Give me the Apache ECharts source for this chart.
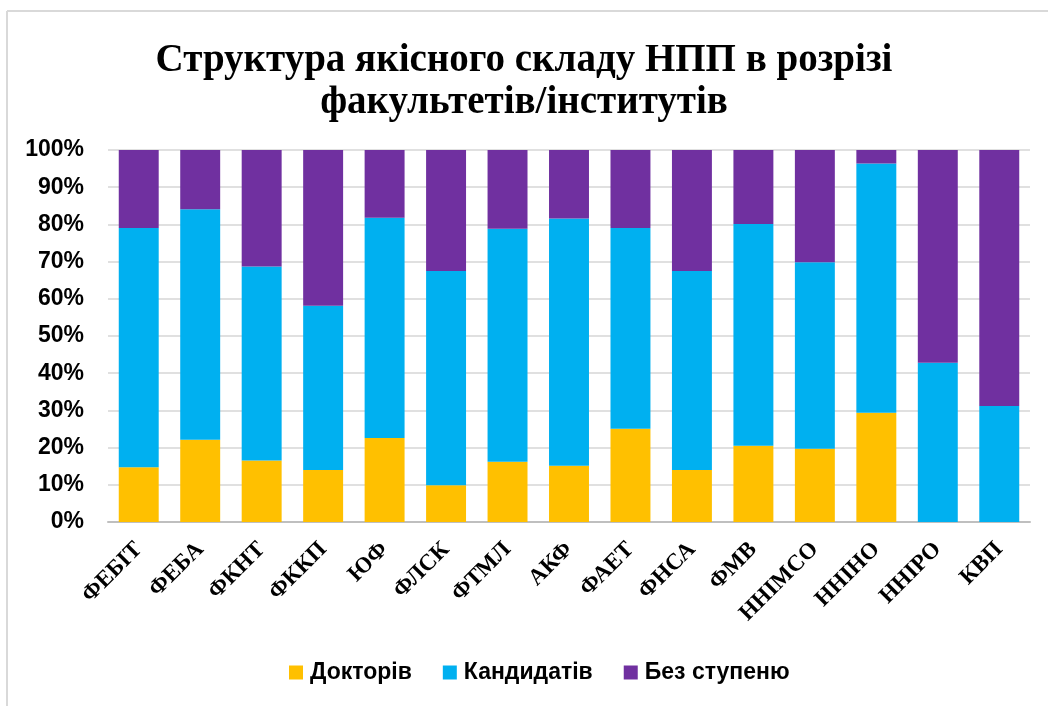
<!DOCTYPE html>
<html>
<head>
<meta charset="utf-8">
<script src="https://cdn.jsdelivr.net/npm/echarts@6/dist/echarts.min.js"></script>
<style>
  html, body { margin: 0; padding: 0; background: #fff; }
  #main { width: 1048px; height: 706px; }
</style>
</head>
<body>
<div id="main"></div>
<script>
const faculties = ['ФЕБІТ', 'ФЕБА', 'ФКНТ', 'ФККП', 'ЮФ', 'ФЛСК', 'ФТМЛ', 'АКФ',
    'ФАЕТ', 'ФНСА', 'ФМВ', 'ННІМСО', 'ННІНО', 'ННІРО', 'КВП']
const doctors    = [14.7, 22.1, 16.5, 14.0, 22.6,  9.9, 16.2, 15.1, 25.1, 14.0, 20.5, 19.7, 29.4,  0.0,  0.0]
const candidates = [64.3, 62.0, 52.2, 44.1, 59.2, 57.6, 62.6, 66.5, 53.9, 53.5, 59.6, 50.1, 67.0, 42.8, 31.2]
const noDegree   = [21.0, 15.9, 31.3, 41.9, 18.2, 32.5, 21.2, 18.4, 21.0, 32.5, 19.9, 30.2,  3.6, 57.2, 68.8]
const seriesNames = ['Докторів', 'Кандидатів', 'Без ступеню']
const colors = ['#FFC000', '#00B0F0', '#7030A0']

const myChart = echarts.init(document.getElementById('main'))
const option = {
    animation: false,
    color: colors,
    title: {
        text: 'Структура якісного складу НПП в розрізі\nфакультетів/інститутів',
        left: 'center',
        top: 35,
        textStyle: {
            fontFamily: 'Liberation Serif',
            fontWeight: 'bold',
            fontSize: 39,
            lineHeight: 42,
            color: '#000'
        }
    },
    legend: {
        top: 656,
        left: 284,
        itemWidth: 14,
        itemHeight: 14,
        itemGap: 31,
        icon: 'rect',
        textStyle: {
            fontFamily: 'Liberation Sans',
            fontWeight: 'bold',
            fontSize: 23,
            padding: [0, 0, 0, 2],
            color: '#000'
        },
        data: seriesNames
    },
    grid: {
        left: 108,
        right: 18,
        top: 150,
        bottom: 184
    },
    xAxis: {
        type: 'category',
        data: faculties,
        axisTick: { show: false },
        axisLine: { lineStyle: { color: '#bfbfbf', width: 2 } },
        axisLabel: {
            rotate: 45,
            interval: 0,
            margin: 24,
            fontFamily: 'Liberation Serif',
            fontWeight: 'bold',
            fontSize: 23,
            color: '#000'
        }
    },
    yAxis: {
        type: 'value',
        min: 0,
        max: 100,
        interval: 10,
        axisLine: { show: false },
        axisTick: { show: false },
        splitLine: { lineStyle: { color: '#e0e0e0', width: 2 } },
        axisLabel: {
            formatter: '{value}%',
            margin: 24,
            fontFamily: 'Liberation Sans',
            fontWeight: 'bold',
            fontSize: 23,
            color: '#000'
        }
    },
    series: [
        { name: seriesNames[0], type: 'bar', stack: 'total', barWidth: '65%', data: doctors },
        { name: seriesNames[1], type: 'bar', stack: 'total', barWidth: '65%', data: candidates },
        { name: seriesNames[2], type: 'bar', stack: 'total', barWidth: '65%', data: noDegree }
    ],
    graphic: [
        { type: 'line', shape: { x1: 7, y1: 11, x2: 1048, y2: 11 }, style: { stroke: '#d9d9d9', lineWidth: 2 } },
        { type: 'line', shape: { x1: 7, y1: 11, x2: 7, y2: 706 }, style: { stroke: '#d9d9d9', lineWidth: 2 } }
    ]
}
myChart.setOption(option)
</script>
</body>
</html>
